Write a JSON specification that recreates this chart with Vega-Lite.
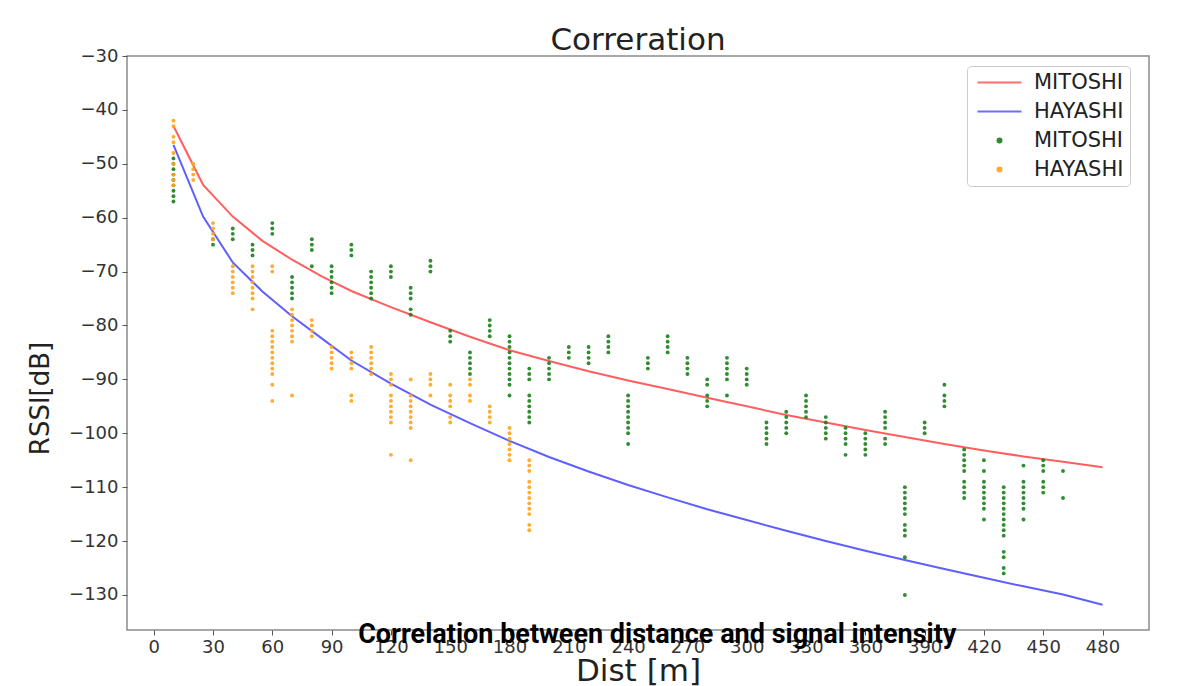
{
  "$schema": "https://vega.github.io/schema/vega-lite/v6.json",
  "padding": {"left": 26, "top": 24, "right": 0, "bottom": 0},
  "background": "white",
  "title": {"text": "Correlation between distance and signal intensity", "orient": "bottom", "anchor": "middle", "offset": -65, "dx": 69, "font": "Roboto", "fontSize": 27, "fontWeight": "bold", "color": "black"},
  "config": {
    "view": {"stroke": "#8a8a8a", "strokeWidth": 1.5},
    "axis": {"domain": false, "grid": false, "tickColor": "#555555", "tickSize": 5, "labelColor": "#333333", "labelFont": "DejaVu Sans", "labelFontSize": 18, "titleFont": "DejaVu Sans", "titleFontWeight": "normal", "titleColor": "#222222"}
  },
  "datasets": {
    "fit": [
      {"dist":10,"rssi":-43,"series":"MITOSHI fit"},{"dist":25,"rssi":-53.9,"series":"MITOSHI fit"},{"dist":40,"rssi":-59.8,"series":"MITOSHI fit"},{"dist":55,"rssi":-64.3,"series":"MITOSHI fit"},{"dist":70,"rssi":-67.8,"series":"MITOSHI fit"},{"dist":85,"rssi":-70.9,"series":"MITOSHI fit"},{"dist":100,"rssi":-73.6,"series":"MITOSHI fit"},{"dist":120,"rssi":-76.6,"series":"MITOSHI fit"},{"dist":140,"rssi":-79.4,"series":"MITOSHI fit"},{"dist":160,"rssi":-82.1,"series":"MITOSHI fit"},{"dist":180,"rssi":-84.6,"series":"MITOSHI fit"},{"dist":200,"rssi":-86.6,"series":"MITOSHI fit"},{"dist":220,"rssi":-88.5,"series":"MITOSHI fit"},{"dist":240,"rssi":-90.2,"series":"MITOSHI fit"},{"dist":260,"rssi":-91.8,"series":"MITOSHI fit"},{"dist":280,"rssi":-93.4,"series":"MITOSHI fit"},{"dist":300,"rssi":-95,"series":"MITOSHI fit"},{"dist":320,"rssi":-96.6,"series":"MITOSHI fit"},{"dist":340,"rssi":-98,"series":"MITOSHI fit"},{"dist":360,"rssi":-99.4,"series":"MITOSHI fit"},{"dist":380,"rssi":-100.7,"series":"MITOSHI fit"},{"dist":400,"rssi":-102,"series":"MITOSHI fit"},{"dist":420,"rssi":-103.2,"series":"MITOSHI fit"},{"dist":440,"rssi":-104.3,"series":"MITOSHI fit"},{"dist":460,"rssi":-105.3,"series":"MITOSHI fit"},{"dist":480,"rssi":-106.3,"series":"MITOSHI fit"},
      {"dist":10,"rssi":-46.5,"series":"HAYASHI fit"},{"dist":25,"rssi":-59.8,"series":"HAYASHI fit"},{"dist":40,"rssi":-68.3,"series":"HAYASHI fit"},{"dist":55,"rssi":-73.7,"series":"HAYASHI fit"},{"dist":70,"rssi":-78.3,"series":"HAYASHI fit"},{"dist":85,"rssi":-82.4,"series":"HAYASHI fit"},{"dist":100,"rssi":-86.5,"series":"HAYASHI fit"},{"dist":120,"rssi":-90.8,"series":"HAYASHI fit"},{"dist":140,"rssi":-94.7,"series":"HAYASHI fit"},{"dist":160,"rssi":-98.1,"series":"HAYASHI fit"},{"dist":180,"rssi":-101.4,"series":"HAYASHI fit"},{"dist":200,"rssi":-104.4,"series":"HAYASHI fit"},{"dist":220,"rssi":-107.1,"series":"HAYASHI fit"},{"dist":240,"rssi":-109.6,"series":"HAYASHI fit"},{"dist":260,"rssi":-111.9,"series":"HAYASHI fit"},{"dist":280,"rssi":-114.1,"series":"HAYASHI fit"},{"dist":300,"rssi":-116.1,"series":"HAYASHI fit"},{"dist":320,"rssi":-118.1,"series":"HAYASHI fit"},{"dist":340,"rssi":-120,"series":"HAYASHI fit"},{"dist":360,"rssi":-121.8,"series":"HAYASHI fit"},{"dist":380,"rssi":-123.5,"series":"HAYASHI fit"},{"dist":400,"rssi":-125.2,"series":"HAYASHI fit"},{"dist":420,"rssi":-126.8,"series":"HAYASHI fit"},{"dist":440,"rssi":-128.4,"series":"HAYASHI fit"},{"dist":460,"rssi":-129.9,"series":"HAYASHI fit"},{"dist":480,"rssi":-131.8,"series":"HAYASHI fit"}
    ],
    "scatter": [
      {"dist":10,"rssi":-49,"series":"MITOSHI"},{"dist":10,"rssi":-50,"series":"MITOSHI"},{"dist":10,"rssi":-51,"series":"MITOSHI"},{"dist":10,"rssi":-52,"series":"MITOSHI"},{"dist":10,"rssi":-53,"series":"MITOSHI"},{"dist":10,"rssi":-54,"series":"MITOSHI"},{"dist":10,"rssi":-55,"series":"MITOSHI"},{"dist":10,"rssi":-56,"series":"MITOSHI"},{"dist":10,"rssi":-57,"series":"MITOSHI"},
      {"dist":30,"rssi":-64,"series":"MITOSHI"},{"dist":30,"rssi":-65,"series":"MITOSHI"},
      {"dist":40,"rssi":-62,"series":"MITOSHI"},{"dist":40,"rssi":-63,"series":"MITOSHI"},{"dist":40,"rssi":-64,"series":"MITOSHI"},
      {"dist":50,"rssi":-65,"series":"MITOSHI"},{"dist":50,"rssi":-66,"series":"MITOSHI"},{"dist":50,"rssi":-67,"series":"MITOSHI"},
      {"dist":60,"rssi":-61,"series":"MITOSHI"},{"dist":60,"rssi":-62,"series":"MITOSHI"},{"dist":60,"rssi":-63,"series":"MITOSHI"},
      {"dist":70,"rssi":-71,"series":"MITOSHI"},{"dist":70,"rssi":-72,"series":"MITOSHI"},{"dist":70,"rssi":-73,"series":"MITOSHI"},{"dist":70,"rssi":-74,"series":"MITOSHI"},{"dist":70,"rssi":-75,"series":"MITOSHI"},
      {"dist":80,"rssi":-64,"series":"MITOSHI"},{"dist":80,"rssi":-65,"series":"MITOSHI"},{"dist":80,"rssi":-66,"series":"MITOSHI"},{"dist":80,"rssi":-69,"series":"MITOSHI"},
      {"dist":90,"rssi":-69,"series":"MITOSHI"},{"dist":90,"rssi":-70,"series":"MITOSHI"},{"dist":90,"rssi":-71,"series":"MITOSHI"},{"dist":90,"rssi":-72,"series":"MITOSHI"},{"dist":90,"rssi":-73,"series":"MITOSHI"},{"dist":90,"rssi":-74,"series":"MITOSHI"},
      {"dist":100,"rssi":-65,"series":"MITOSHI"},{"dist":100,"rssi":-66,"series":"MITOSHI"},{"dist":100,"rssi":-67,"series":"MITOSHI"},
      {"dist":110,"rssi":-70,"series":"MITOSHI"},{"dist":110,"rssi":-71,"series":"MITOSHI"},{"dist":110,"rssi":-72,"series":"MITOSHI"},{"dist":110,"rssi":-73,"series":"MITOSHI"},{"dist":110,"rssi":-74,"series":"MITOSHI"},{"dist":110,"rssi":-75,"series":"MITOSHI"},
      {"dist":120,"rssi":-69,"series":"MITOSHI"},{"dist":120,"rssi":-70,"series":"MITOSHI"},{"dist":120,"rssi":-71,"series":"MITOSHI"},
      {"dist":130,"rssi":-73,"series":"MITOSHI"},{"dist":130,"rssi":-74,"series":"MITOSHI"},{"dist":130,"rssi":-75,"series":"MITOSHI"},{"dist":130,"rssi":-77,"series":"MITOSHI"},{"dist":130,"rssi":-78,"series":"MITOSHI"},
      {"dist":140,"rssi":-68,"series":"MITOSHI"},{"dist":140,"rssi":-69,"series":"MITOSHI"},{"dist":140,"rssi":-70,"series":"MITOSHI"},
      {"dist":150,"rssi":-81,"series":"MITOSHI"},{"dist":150,"rssi":-82,"series":"MITOSHI"},{"dist":150,"rssi":-83,"series":"MITOSHI"},
      {"dist":160,"rssi":-85,"series":"MITOSHI"},{"dist":160,"rssi":-86,"series":"MITOSHI"},{"dist":160,"rssi":-87,"series":"MITOSHI"},{"dist":160,"rssi":-88,"series":"MITOSHI"},{"dist":160,"rssi":-89,"series":"MITOSHI"},
      {"dist":170,"rssi":-79,"series":"MITOSHI"},{"dist":170,"rssi":-80,"series":"MITOSHI"},{"dist":170,"rssi":-81,"series":"MITOSHI"},{"dist":170,"rssi":-82,"series":"MITOSHI"},
      {"dist":180,"rssi":-82,"series":"MITOSHI"},{"dist":180,"rssi":-83,"series":"MITOSHI"},{"dist":180,"rssi":-84,"series":"MITOSHI"},{"dist":180,"rssi":-85,"series":"MITOSHI"},{"dist":180,"rssi":-86,"series":"MITOSHI"},{"dist":180,"rssi":-87,"series":"MITOSHI"},{"dist":180,"rssi":-88,"series":"MITOSHI"},{"dist":180,"rssi":-89,"series":"MITOSHI"},{"dist":180,"rssi":-90,"series":"MITOSHI"},{"dist":180,"rssi":-91,"series":"MITOSHI"},{"dist":180,"rssi":-93,"series":"MITOSHI"},
      {"dist":190,"rssi":-88,"series":"MITOSHI"},{"dist":190,"rssi":-89,"series":"MITOSHI"},{"dist":190,"rssi":-90,"series":"MITOSHI"},{"dist":190,"rssi":-93,"series":"MITOSHI"},{"dist":190,"rssi":-94,"series":"MITOSHI"},{"dist":190,"rssi":-95,"series":"MITOSHI"},{"dist":190,"rssi":-96,"series":"MITOSHI"},{"dist":190,"rssi":-97,"series":"MITOSHI"},{"dist":190,"rssi":-98,"series":"MITOSHI"},
      {"dist":200,"rssi":-86,"series":"MITOSHI"},{"dist":200,"rssi":-87,"series":"MITOSHI"},{"dist":200,"rssi":-88,"series":"MITOSHI"},{"dist":200,"rssi":-89,"series":"MITOSHI"},{"dist":200,"rssi":-90,"series":"MITOSHI"},
      {"dist":210,"rssi":-84,"series":"MITOSHI"},{"dist":210,"rssi":-85,"series":"MITOSHI"},{"dist":210,"rssi":-86,"series":"MITOSHI"},
      {"dist":220,"rssi":-84,"series":"MITOSHI"},{"dist":220,"rssi":-85,"series":"MITOSHI"},{"dist":220,"rssi":-86,"series":"MITOSHI"},{"dist":220,"rssi":-87,"series":"MITOSHI"},
      {"dist":230,"rssi":-82,"series":"MITOSHI"},{"dist":230,"rssi":-83,"series":"MITOSHI"},{"dist":230,"rssi":-84,"series":"MITOSHI"},{"dist":230,"rssi":-85,"series":"MITOSHI"},
      {"dist":240,"rssi":-93,"series":"MITOSHI"},{"dist":240,"rssi":-94,"series":"MITOSHI"},{"dist":240,"rssi":-95,"series":"MITOSHI"},{"dist":240,"rssi":-96,"series":"MITOSHI"},{"dist":240,"rssi":-97,"series":"MITOSHI"},{"dist":240,"rssi":-98,"series":"MITOSHI"},{"dist":240,"rssi":-99,"series":"MITOSHI"},{"dist":240,"rssi":-100,"series":"MITOSHI"},{"dist":240,"rssi":-102,"series":"MITOSHI"},
      {"dist":250,"rssi":-86,"series":"MITOSHI"},{"dist":250,"rssi":-87,"series":"MITOSHI"},{"dist":250,"rssi":-88,"series":"MITOSHI"},
      {"dist":260,"rssi":-82,"series":"MITOSHI"},{"dist":260,"rssi":-83,"series":"MITOSHI"},{"dist":260,"rssi":-84,"series":"MITOSHI"},{"dist":260,"rssi":-85,"series":"MITOSHI"},
      {"dist":270,"rssi":-86,"series":"MITOSHI"},{"dist":270,"rssi":-87,"series":"MITOSHI"},{"dist":270,"rssi":-88,"series":"MITOSHI"},{"dist":270,"rssi":-89,"series":"MITOSHI"},
      {"dist":280,"rssi":-90,"series":"MITOSHI"},{"dist":280,"rssi":-91,"series":"MITOSHI"},{"dist":280,"rssi":-93,"series":"MITOSHI"},{"dist":280,"rssi":-94,"series":"MITOSHI"},{"dist":280,"rssi":-95,"series":"MITOSHI"},
      {"dist":290,"rssi":-86,"series":"MITOSHI"},{"dist":290,"rssi":-87,"series":"MITOSHI"},{"dist":290,"rssi":-88,"series":"MITOSHI"},{"dist":290,"rssi":-89,"series":"MITOSHI"},{"dist":290,"rssi":-90,"series":"MITOSHI"},{"dist":290,"rssi":-93,"series":"MITOSHI"},
      {"dist":300,"rssi":-88,"series":"MITOSHI"},{"dist":300,"rssi":-89,"series":"MITOSHI"},{"dist":300,"rssi":-90,"series":"MITOSHI"},{"dist":300,"rssi":-91,"series":"MITOSHI"},
      {"dist":310,"rssi":-98,"series":"MITOSHI"},{"dist":310,"rssi":-99,"series":"MITOSHI"},{"dist":310,"rssi":-100,"series":"MITOSHI"},{"dist":310,"rssi":-101,"series":"MITOSHI"},{"dist":310,"rssi":-102,"series":"MITOSHI"},
      {"dist":320,"rssi":-96,"series":"MITOSHI"},{"dist":320,"rssi":-97,"series":"MITOSHI"},{"dist":320,"rssi":-98,"series":"MITOSHI"},{"dist":320,"rssi":-99,"series":"MITOSHI"},{"dist":320,"rssi":-100,"series":"MITOSHI"},
      {"dist":330,"rssi":-93,"series":"MITOSHI"},{"dist":330,"rssi":-94,"series":"MITOSHI"},{"dist":330,"rssi":-95,"series":"MITOSHI"},{"dist":330,"rssi":-96,"series":"MITOSHI"},{"dist":330,"rssi":-97,"series":"MITOSHI"},
      {"dist":340,"rssi":-97,"series":"MITOSHI"},{"dist":340,"rssi":-98,"series":"MITOSHI"},{"dist":340,"rssi":-99,"series":"MITOSHI"},{"dist":340,"rssi":-100,"series":"MITOSHI"},{"dist":340,"rssi":-101,"series":"MITOSHI"},
      {"dist":350,"rssi":-99,"series":"MITOSHI"},{"dist":350,"rssi":-100,"series":"MITOSHI"},{"dist":350,"rssi":-101,"series":"MITOSHI"},{"dist":350,"rssi":-102,"series":"MITOSHI"},{"dist":350,"rssi":-104,"series":"MITOSHI"},
      {"dist":360,"rssi":-100,"series":"MITOSHI"},{"dist":360,"rssi":-101,"series":"MITOSHI"},{"dist":360,"rssi":-102,"series":"MITOSHI"},{"dist":360,"rssi":-103,"series":"MITOSHI"},{"dist":360,"rssi":-104,"series":"MITOSHI"},
      {"dist":370,"rssi":-96,"series":"MITOSHI"},{"dist":370,"rssi":-97,"series":"MITOSHI"},{"dist":370,"rssi":-98,"series":"MITOSHI"},{"dist":370,"rssi":-99,"series":"MITOSHI"},{"dist":370,"rssi":-101,"series":"MITOSHI"},{"dist":370,"rssi":-102,"series":"MITOSHI"},
      {"dist":380,"rssi":-110,"series":"MITOSHI"},{"dist":380,"rssi":-111,"series":"MITOSHI"},{"dist":380,"rssi":-112,"series":"MITOSHI"},{"dist":380,"rssi":-113,"series":"MITOSHI"},{"dist":380,"rssi":-114,"series":"MITOSHI"},{"dist":380,"rssi":-115,"series":"MITOSHI"},{"dist":380,"rssi":-117,"series":"MITOSHI"},{"dist":380,"rssi":-118,"series":"MITOSHI"},{"dist":380,"rssi":-119,"series":"MITOSHI"},{"dist":380,"rssi":-123,"series":"MITOSHI"},{"dist":380,"rssi":-130,"series":"MITOSHI"},
      {"dist":390,"rssi":-98,"series":"MITOSHI"},{"dist":390,"rssi":-99,"series":"MITOSHI"},{"dist":390,"rssi":-100,"series":"MITOSHI"},
      {"dist":400,"rssi":-91,"series":"MITOSHI"},{"dist":400,"rssi":-93,"series":"MITOSHI"},{"dist":400,"rssi":-94,"series":"MITOSHI"},{"dist":400,"rssi":-95,"series":"MITOSHI"},
      {"dist":410,"rssi":-103,"series":"MITOSHI"},{"dist":410,"rssi":-104,"series":"MITOSHI"},{"dist":410,"rssi":-105,"series":"MITOSHI"},{"dist":410,"rssi":-106,"series":"MITOSHI"},{"dist":410,"rssi":-107,"series":"MITOSHI"},{"dist":410,"rssi":-109,"series":"MITOSHI"},{"dist":410,"rssi":-110,"series":"MITOSHI"},{"dist":410,"rssi":-111,"series":"MITOSHI"},{"dist":410,"rssi":-112,"series":"MITOSHI"},
      {"dist":420,"rssi":-105,"series":"MITOSHI"},{"dist":420,"rssi":-107,"series":"MITOSHI"},{"dist":420,"rssi":-109,"series":"MITOSHI"},{"dist":420,"rssi":-110,"series":"MITOSHI"},{"dist":420,"rssi":-111,"series":"MITOSHI"},{"dist":420,"rssi":-112,"series":"MITOSHI"},{"dist":420,"rssi":-113,"series":"MITOSHI"},{"dist":420,"rssi":-114,"series":"MITOSHI"},{"dist":420,"rssi":-116,"series":"MITOSHI"},
      {"dist":430,"rssi":-110,"series":"MITOSHI"},{"dist":430,"rssi":-111,"series":"MITOSHI"},{"dist":430,"rssi":-112,"series":"MITOSHI"},{"dist":430,"rssi":-113,"series":"MITOSHI"},{"dist":430,"rssi":-114,"series":"MITOSHI"},{"dist":430,"rssi":-115,"series":"MITOSHI"},{"dist":430,"rssi":-116,"series":"MITOSHI"},{"dist":430,"rssi":-117,"series":"MITOSHI"},{"dist":430,"rssi":-118,"series":"MITOSHI"},{"dist":430,"rssi":-119,"series":"MITOSHI"},{"dist":430,"rssi":-122,"series":"MITOSHI"},{"dist":430,"rssi":-123,"series":"MITOSHI"},{"dist":430,"rssi":-125,"series":"MITOSHI"},{"dist":430,"rssi":-126,"series":"MITOSHI"},
      {"dist":440,"rssi":-106,"series":"MITOSHI"},{"dist":440,"rssi":-109,"series":"MITOSHI"},{"dist":440,"rssi":-110,"series":"MITOSHI"},{"dist":440,"rssi":-111,"series":"MITOSHI"},{"dist":440,"rssi":-112,"series":"MITOSHI"},{"dist":440,"rssi":-113,"series":"MITOSHI"},{"dist":440,"rssi":-114,"series":"MITOSHI"},{"dist":440,"rssi":-116,"series":"MITOSHI"},
      {"dist":450,"rssi":-105,"series":"MITOSHI"},{"dist":450,"rssi":-106,"series":"MITOSHI"},{"dist":450,"rssi":-107,"series":"MITOSHI"},{"dist":450,"rssi":-109,"series":"MITOSHI"},{"dist":450,"rssi":-110,"series":"MITOSHI"},{"dist":450,"rssi":-111,"series":"MITOSHI"},
      {"dist":460,"rssi":-107,"series":"MITOSHI"},{"dist":460,"rssi":-112,"series":"MITOSHI"},
      {"dist":10,"rssi":-42,"series":"HAYASHI"},{"dist":10,"rssi":-43,"series":"HAYASHI"},{"dist":10,"rssi":-45,"series":"HAYASHI"},{"dist":10,"rssi":-46,"series":"HAYASHI"},{"dist":10,"rssi":-48,"series":"HAYASHI"},{"dist":10,"rssi":-50,"series":"HAYASHI"},{"dist":10,"rssi":-52,"series":"HAYASHI"},{"dist":10,"rssi":-53,"series":"HAYASHI"},{"dist":10,"rssi":-54,"series":"HAYASHI"},
      {"dist":20,"rssi":-50,"series":"HAYASHI"},{"dist":20,"rssi":-51,"series":"HAYASHI"},{"dist":20,"rssi":-52,"series":"HAYASHI"},{"dist":20,"rssi":-53,"series":"HAYASHI"},
      {"dist":30,"rssi":-61,"series":"HAYASHI"},{"dist":30,"rssi":-62,"series":"HAYASHI"},{"dist":30,"rssi":-63,"series":"HAYASHI"},{"dist":30,"rssi":-64,"series":"HAYASHI"},
      {"dist":40,"rssi":-69,"series":"HAYASHI"},{"dist":40,"rssi":-70,"series":"HAYASHI"},{"dist":40,"rssi":-71,"series":"HAYASHI"},{"dist":40,"rssi":-72,"series":"HAYASHI"},{"dist":40,"rssi":-73,"series":"HAYASHI"},{"dist":40,"rssi":-74,"series":"HAYASHI"},
      {"dist":50,"rssi":-69,"series":"HAYASHI"},{"dist":50,"rssi":-70,"series":"HAYASHI"},{"dist":50,"rssi":-71,"series":"HAYASHI"},{"dist":50,"rssi":-72,"series":"HAYASHI"},{"dist":50,"rssi":-73,"series":"HAYASHI"},{"dist":50,"rssi":-74,"series":"HAYASHI"},{"dist":50,"rssi":-75,"series":"HAYASHI"},{"dist":50,"rssi":-77,"series":"HAYASHI"},
      {"dist":60,"rssi":-69,"series":"HAYASHI"},{"dist":60,"rssi":-70,"series":"HAYASHI"},{"dist":60,"rssi":-81,"series":"HAYASHI"},{"dist":60,"rssi":-82,"series":"HAYASHI"},{"dist":60,"rssi":-83,"series":"HAYASHI"},{"dist":60,"rssi":-84,"series":"HAYASHI"},{"dist":60,"rssi":-85,"series":"HAYASHI"},{"dist":60,"rssi":-86,"series":"HAYASHI"},{"dist":60,"rssi":-87,"series":"HAYASHI"},{"dist":60,"rssi":-88,"series":"HAYASHI"},{"dist":60,"rssi":-89,"series":"HAYASHI"},{"dist":60,"rssi":-91,"series":"HAYASHI"},{"dist":60,"rssi":-94,"series":"HAYASHI"},
      {"dist":70,"rssi":-77,"series":"HAYASHI"},{"dist":70,"rssi":-78,"series":"HAYASHI"},{"dist":70,"rssi":-79,"series":"HAYASHI"},{"dist":70,"rssi":-80,"series":"HAYASHI"},{"dist":70,"rssi":-81,"series":"HAYASHI"},{"dist":70,"rssi":-82,"series":"HAYASHI"},{"dist":70,"rssi":-83,"series":"HAYASHI"},{"dist":70,"rssi":-93,"series":"HAYASHI"},
      {"dist":80,"rssi":-79,"series":"HAYASHI"},{"dist":80,"rssi":-80,"series":"HAYASHI"},{"dist":80,"rssi":-81,"series":"HAYASHI"},{"dist":80,"rssi":-82,"series":"HAYASHI"},
      {"dist":90,"rssi":-84,"series":"HAYASHI"},{"dist":90,"rssi":-85,"series":"HAYASHI"},{"dist":90,"rssi":-86,"series":"HAYASHI"},{"dist":90,"rssi":-87,"series":"HAYASHI"},{"dist":90,"rssi":-88,"series":"HAYASHI"},
      {"dist":100,"rssi":-85,"series":"HAYASHI"},{"dist":100,"rssi":-86,"series":"HAYASHI"},{"dist":100,"rssi":-87,"series":"HAYASHI"},{"dist":100,"rssi":-88,"series":"HAYASHI"},{"dist":100,"rssi":-93,"series":"HAYASHI"},{"dist":100,"rssi":-94,"series":"HAYASHI"},
      {"dist":110,"rssi":-84,"series":"HAYASHI"},{"dist":110,"rssi":-85,"series":"HAYASHI"},{"dist":110,"rssi":-86,"series":"HAYASHI"},{"dist":110,"rssi":-87,"series":"HAYASHI"},{"dist":110,"rssi":-88,"series":"HAYASHI"},{"dist":110,"rssi":-89,"series":"HAYASHI"},
      {"dist":120,"rssi":-89,"series":"HAYASHI"},{"dist":120,"rssi":-90,"series":"HAYASHI"},{"dist":120,"rssi":-91,"series":"HAYASHI"},{"dist":120,"rssi":-93,"series":"HAYASHI"},{"dist":120,"rssi":-94,"series":"HAYASHI"},{"dist":120,"rssi":-95,"series":"HAYASHI"},{"dist":120,"rssi":-96,"series":"HAYASHI"},{"dist":120,"rssi":-97,"series":"HAYASHI"},{"dist":120,"rssi":-98,"series":"HAYASHI"},{"dist":120,"rssi":-104,"series":"HAYASHI"},
      {"dist":130,"rssi":-90,"series":"HAYASHI"},{"dist":130,"rssi":-93,"series":"HAYASHI"},{"dist":130,"rssi":-94,"series":"HAYASHI"},{"dist":130,"rssi":-95,"series":"HAYASHI"},{"dist":130,"rssi":-96,"series":"HAYASHI"},{"dist":130,"rssi":-97,"series":"HAYASHI"},{"dist":130,"rssi":-98,"series":"HAYASHI"},{"dist":130,"rssi":-99,"series":"HAYASHI"},{"dist":130,"rssi":-105,"series":"HAYASHI"},
      {"dist":140,"rssi":-89,"series":"HAYASHI"},{"dist":140,"rssi":-90,"series":"HAYASHI"},{"dist":140,"rssi":-91,"series":"HAYASHI"},{"dist":140,"rssi":-93,"series":"HAYASHI"},
      {"dist":150,"rssi":-91,"series":"HAYASHI"},{"dist":150,"rssi":-93,"series":"HAYASHI"},{"dist":150,"rssi":-94,"series":"HAYASHI"},{"dist":150,"rssi":-95,"series":"HAYASHI"},{"dist":150,"rssi":-97,"series":"HAYASHI"},{"dist":150,"rssi":-98,"series":"HAYASHI"},
      {"dist":160,"rssi":-90,"series":"HAYASHI"},{"dist":160,"rssi":-91,"series":"HAYASHI"},{"dist":160,"rssi":-93,"series":"HAYASHI"},{"dist":160,"rssi":-94,"series":"HAYASHI"},
      {"dist":170,"rssi":-95,"series":"HAYASHI"},{"dist":170,"rssi":-96,"series":"HAYASHI"},{"dist":170,"rssi":-97,"series":"HAYASHI"},{"dist":170,"rssi":-98,"series":"HAYASHI"},
      {"dist":180,"rssi":-99,"series":"HAYASHI"},{"dist":180,"rssi":-100,"series":"HAYASHI"},{"dist":180,"rssi":-101,"series":"HAYASHI"},{"dist":180,"rssi":-102,"series":"HAYASHI"},{"dist":180,"rssi":-103,"series":"HAYASHI"},{"dist":180,"rssi":-104,"series":"HAYASHI"},{"dist":180,"rssi":-105,"series":"HAYASHI"},
      {"dist":190,"rssi":-105,"series":"HAYASHI"},{"dist":190,"rssi":-106,"series":"HAYASHI"},{"dist":190,"rssi":-107,"series":"HAYASHI"},{"dist":190,"rssi":-109,"series":"HAYASHI"},{"dist":190,"rssi":-110,"series":"HAYASHI"},{"dist":190,"rssi":-111,"series":"HAYASHI"},{"dist":190,"rssi":-112,"series":"HAYASHI"},{"dist":190,"rssi":-113,"series":"HAYASHI"},{"dist":190,"rssi":-114,"series":"HAYASHI"},{"dist":190,"rssi":-115,"series":"HAYASHI"},{"dist":190,"rssi":-117,"series":"HAYASHI"},{"dist":190,"rssi":-118,"series":"HAYASHI"}
    ]
  },
  "vconcat": [
    {
      "width": 1022,
      "height": 574,
      "title": {"text": "Correration", "fontSize": 31, "font": "DejaVu Sans", "fontWeight": "normal", "color": "#222222", "offset": -10, "anchor": "middle"},
      "encoding": {
        "x": {"field": "dist", "type": "quantitative", "scale": {"domain": [-13.5, 503.5], "nice": false, "zero": false}, "axis": {"values": [0,30,60,90,120,150,180,210,240,270,300,330,360,390,420,450,480], "title": "Dist [m]", "titleFontSize": 31, "titlePadding": 0, "labelPadding": 3}},
        "y": {"field": "rssi", "type": "quantitative", "scale": {"domain": [-136.5, -30], "nice": false, "zero": false}, "axis": {"values": [-30,-40,-50,-60,-70,-80,-90,-100,-110,-120,-130], "title": "RSSI[dB]", "titleFontSize": 26, "titlePadding": 15, "titleY": 342, "labelPadding": 4}}
      },
      "layer": [
        {"data": {"name": "fit"}, "mark": {"type": "line", "strokeWidth": 2},
         "encoding": {"color": {"field": "series", "type": "nominal",
          "scale": {"domain": ["MITOSHI fit", "HAYASHI fit", "MITOSHI", "HAYASHI"], "range": ["#ff5f5f", "#5f5fff", "#1b7f1b", "#ffa31a"]},
          "legend": {
            "title": null, "orient": "none", "legendX": 840, "legendY": 10,
            "labelExpr": "replace(datum.label, ' fit', '')",
            "labelFont": "DejaVu Sans", "labelFontSize": 21, "labelColor": "#222222", "labelOffset": 24,
            "strokeColor": "#cccccc", "fillColor": "white", "cornerRadius": 4, "padding": 6,
            "rowPadding": 7, "symbolOffset": 16,
            "symbolType": {"expr": "datum.index < 2 ? 'stroke' : 'circle'"},
            "symbolSize": {"expr": "datum.index < 2 ? 1936 : 16"},
            "symbolFillColor": {"expr": "datum.index < 2 ? 'transparent' : scale('color', datum.value)"},
            "symbolStrokeColor": {"expr": "datum.index < 2 ? scale('color', datum.value) : 'transparent'"},
            "symbolStrokeWidth": 2,
            "symbolOpacity": 1
          }}}},
        {"data": {"name": "scatter"}, "mark": {"type": "point", "filled": true, "size": 15, "opacity": 0.9},
         "encoding": {"color": {"field": "series", "type": "nominal"}}}
      ]
    }
  ]
}
